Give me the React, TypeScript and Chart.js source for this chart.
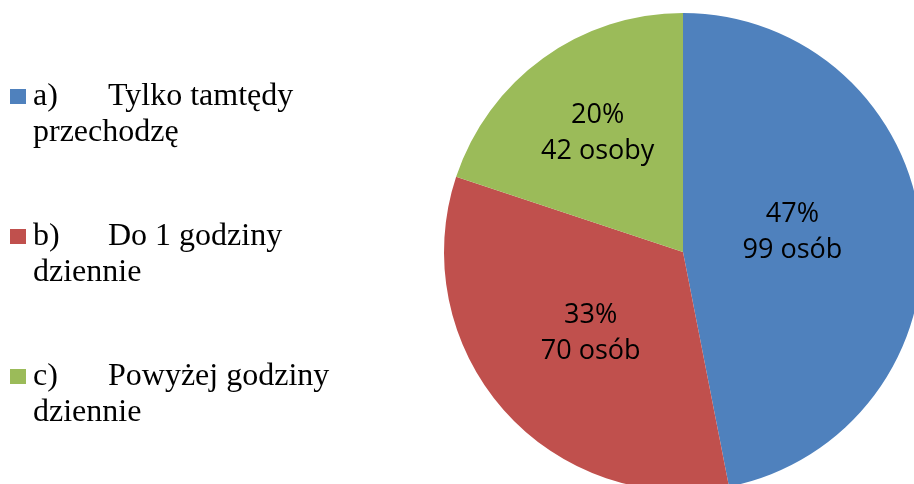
import React, { useEffect, useRef } from "react";
import { Chart, registerables } from "chart.js";

Chart.register(...registerables);

const categories = [
  "a) Tylko tamtędy przechodzę",
  "b) Do 1 godziny dziennie",
  "c) Powyżej godziny dziennie",
];
const legendPrefixes = ["a)", "b)", "c)"];
const legendLine1 = ["Tylko tamtędy", "Do 1 godziny", "Powyżej godziny"];
const legendLine2 = ["przechodzę", "dziennie", "dziennie"];
const counts = [99, 70, 42];
const countUnits = ["osób", "osób", "osoby"];
const colors = ["#4F81BD", "#C0504D", "#9BBB59"];

const pieLabelsPlugin = {
  id: "pieLabels",
  afterDatasetsDraw(chart: any, _args: any, opts: any) {
    const ctx = chart.ctx;
    const meta = chart.getDatasetMeta(0);
    const total = counts.reduce((a, b) => a + b, 0);
    ctx.save();
    ctx.fillStyle = "#000";
    ctx.textAlign = "center";
    ctx.textBaseline = "middle";
    ctx.font = opts.font;
    meta.data.forEach((arc: any, i: number) => {
      const p = arc.getProps(["x", "y", "startAngle", "endAngle", "outerRadius"], true);
      const mid = (p.startAngle + p.endAngle) / 2;
      const r = p.outerRadius * opts.radius[i];
      const cx = p.x + Math.cos(mid) * r;
      const cy = p.y + Math.sin(mid) * r + opts.dy[i];
      const pct = Math.round((counts[i] / total) * 100) + "%";
      ctx.fillText(pct, cx, cy - opts.gap);
      ctx.fillText(counts[i] + " " + countUnits[i], cx, cy + opts.gap);
    });
    ctx.restore();
  },
};

const sideLegendPlugin = {
  id: "sideLegend",
  afterDraw(chart: any, _args: any, opts: any) {
    const ctx = chart.ctx;
    ctx.save();
    ctx.textBaseline = "alphabetic";
    ctx.textAlign = "left";
    categories.forEach((_c, i) => {
      const top = opts.top + i * opts.step;
      ctx.fillStyle = colors[i];
      ctx.fillRect(opts.boxX, top, opts.boxW, opts.boxH);
      ctx.fillStyle = "#000";
      ctx.font = opts.font;
      const base1 = top + opts.base1;
      ctx.fillText(legendPrefixes[i], opts.textX, base1);
      ctx.fillText(legendLine1[i], opts.text2X, base1);
      ctx.fillText(legendLine2[i], opts.textX, base1 + opts.lineGap);
    });
    ctx.restore();
  },
};

export default function App() {
  const ref = useRef<HTMLCanvasElement>(null);
  useEffect(() => {
    if (!ref.current) return;
    const chart = new Chart(ref.current, {
      type: "pie",
      data: {
        labels: categories,
        datasets: [
          {
            data: counts,
            backgroundColor: colors,
            borderWidth: 0,
          },
        ],
      },
      options: {
        responsive: false,
        animation: false,
        layout: { padding: { left: 444, top: 13, right: 78, bottom: 109 } },
        plugins: {
          legend: { display: false },
          tooltip: { enabled: false },
          pieLabels: {
            font: "27px 'Open Sans'",
            radius: [0.46, 0.515, 0.61],
            dy: [-9, 0, 0],
            gap: 18,
          },
          sideLegend: {
            font: "32px 'Liberation Serif'",
            top: 89,
            step: 140,
            boxX: 10,
            boxW: 16,
            boxH: 15,
            textX: 33,
            text2X: 108,
            base1: 16,
            lineGap: 36,
          },
        } as any,
      },
      plugins: [pieLabelsPlugin, sideLegendPlugin],
    });
    return () => chart.destroy();
  }, []);
  return (
    <div
      style={{
        position: "fixed",
        left: 0,
        top: 0,
        width: 914,
        height: 484,
        overflow: "hidden",
        background: "#fff",
      }}
    >
      <canvas ref={ref} width={1000} height={600} style={{ position: "absolute", left: 0, top: 0 }} />
    </div>
  );
}
